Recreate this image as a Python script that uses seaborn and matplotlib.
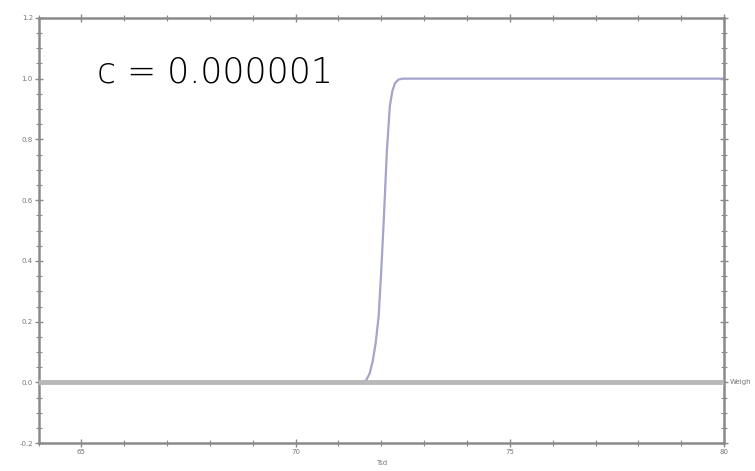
import matplotlib
matplotlib.use("Agg")
import matplotlib.pyplot as plt
from matplotlib.ticker import MultipleLocator
import pandas as pd
import seaborn as sns

# values
x_vals = [64.0, 71.55, 71.65, 71.73, 71.8, 71.87, 71.94, 72.0, 72.06, 72.13,
          72.2, 72.26, 72.32, 72.4, 72.5, 80.0]
y_vals = [0.0, 0.0, 0.008, 0.03, 0.07, 0.13, 0.22, 0.37, 0.54, 0.76,
          0.91, 0.96, 0.985, 0.997, 1.0, 1.0]
label_text = "c = 0.000001"
x_name = "Tsd"
y_name = "Weigh"

sns.set_style("white")
plt.rcParams['font.family'] = ['DejaVu Sans']

df = pd.DataFrame({"x": x_vals, "y": y_vals})

fig = plt.figure(figsize=(7.55, 4.71), dpi=100)
ax = fig.add_axes([0.051, 0.059, 0.908, 0.903])

sns.lineplot(data=df, x="x", y="y", ax=ax, color='#a4a4cc', lw=1.6, zorder=2)
# horizontal axis line at y = 0 (Mathematica style)
ax.axhline(0, color='#b8b8b8', lw=3.5, zorder=3)

ax.set_xlim(64, 80)
ax.set_ylim(-0.2, 1.2)
ax.xaxis.set_major_locator(MultipleLocator(5))
ax.xaxis.set_minor_locator(MultipleLocator(1))
ax.yaxis.set_major_locator(MultipleLocator(0.2))
ax.yaxis.set_minor_locator(MultipleLocator(0.05))
ax.tick_params(which='both', direction='inout', bottom=True, left=True,
               top=True, right=True, color='#8a8a8a', labelsize=5,
               labelcolor='#777777', pad=1)
ax.tick_params(which='major', length=6, width=1)
ax.tick_params(which='minor', length=4, width=0.8)
ax.set_yticks([-0.2, 0.0, 0.2, 0.4, 0.6, 0.8, 1.0, 1.2])
ax.set_yticklabels(['-0.2', '0.0', '0.2', '0.4', '0.6', '0.8', '1.0', '1.2'])
for s in ax.spines.values():
    s.set_color('#8a8a8a')
    s.set_linewidth(1.8)

ax.set_xlabel(x_name, fontsize=5, color='#777777', labelpad=4)
ax.set_ylabel("")
ax.text(1.008, 0.143, y_name, transform=ax.transAxes, fontsize=5,
        color='#777777', va='center', ha='left', clip_on=False)

ax.text(0.085, 0.872, label_text, transform=ax.transAxes, fontsize=25,
        color='#000000', va='center', ha='left', fontweight='light')

fig.savefig("out.png", dpi=100)
